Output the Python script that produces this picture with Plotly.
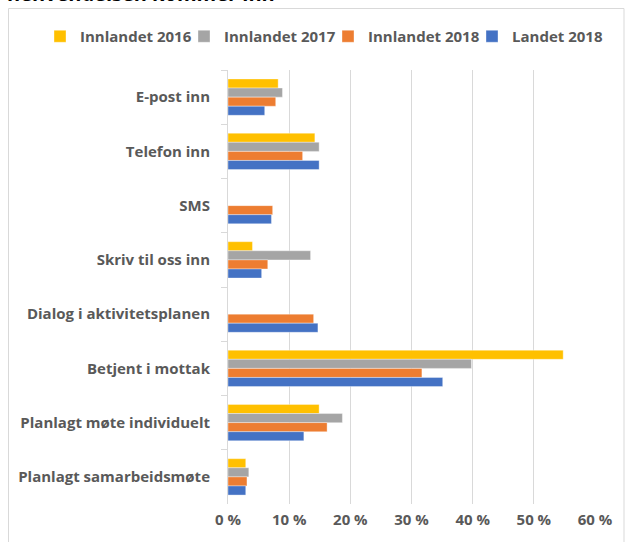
import plotly.graph_objects as go

categories = ["E-post inn", "Telefon inn", "SMS", "Skriv til oss inn",
              "Dialog i aktivitetsplanen", "Betjent i mottak",
              "Planlagt møte individuelt", "Planlagt samarbeidsmøte"]

innlandet_2016 = [8.2, 14.2, None, 4.0, None, 54.8, 14.9, 2.9]
innlandet_2017 = [8.9, 14.9, None, 13.5, None, 39.8, 18.7, 3.4]
innlandet_2018 = [7.8, 12.2, 7.3, 6.5, 14.0, 31.7, 16.2, 3.1]
landet_2018 = [6.0, 14.9, 7.1, 5.5, 14.7, 35.1, 12.4, 2.9]

series = [("Innlandet 2016", innlandet_2016, "#FFC000"),
          ("Innlandet 2017", innlandet_2017, "#A5A5A5"),
          ("Innlandet 2018", innlandet_2018, "#ED7D31"),
          ("Landet 2018", landet_2018, "#4472C4")]

tick_vals = [0, 10, 20, 30, 40, 50, 60]
tick_text = ["0 %", "10 %", "20 %", "30 %", "40 %", "50 %", "60 %"]

FONT = "Open Sans"
FS = 15
W, H = 627, 542
L, R, T, B = 228, 32, 70, 38

fig = go.Figure()
for name, vals, col in series:
    fig.add_trace(go.Bar(
        y=categories, x=vals, name=name, orientation="h",
        marker=dict(color=col, line=dict(width=0.6, color="rgba(255,255,255,0.6)")),
    ))

pw = W - L - R
ph = H - T - B
def px_x(p):
    return (p - L) / pw
def px_y(p):
    return (H - B - p) / ph

fig.update_layout(
    width=W, height=H,
    margin=dict(l=L, r=R, t=T, b=B, pad=0, autoexpand=False),
    paper_bgcolor="white", plot_bgcolor="white",
    barmode="group", bargap=0.33, bargroupgap=0,
    font=dict(family=FONT, color="#595959", size=FS),
    legend=dict(orientation="h", x=px_x(40), xanchor="left", y=px_y(20), yanchor="top",
                font=dict(family=FONT, size=FS, color="#595959", weight="bold"),
                traceorder="normal", itemwidth=30, entrywidth=99, entrywidthmode="pixels",
                tracegroupgap=0),
    xaxis=dict(range=[0, 60], tickvals=tick_vals, ticktext=tick_text,
               showgrid=True, gridcolor="#D9D9D9", gridwidth=1,
               zeroline=False, showline=False, ticks="",
               tickfont=dict(family=FONT, size=FS, color="#595959", weight="bold"),
               ticklabelstandoff=5, fixedrange=True),
    yaxis=dict(autorange="reversed", type="category",
               showline=True, linecolor="#D9D9D9", linewidth=1,
               ticks="outside", tickson="boundaries", ticklen=6, tickcolor="#D9D9D9",
               tickfont=dict(family=FONT, size=FS, color="#595959", weight="bold"),
               ticklabelstandoff=14, showgrid=False, fixedrange=True),
    shapes=[dict(type="rect", xref="paper", yref="paper",
                 x0=px_x(8.5), x1=px_x(624), y0=px_y(560), y1=px_y(8.5),
                 line=dict(color="#D9D9D9", width=1), fillcolor="rgba(0,0,0,0)",
                 layer="below")],
    annotations=[dict(text="<b>henvendelsen kommer inn</b>", showarrow=False,
                      xref="paper", yref="paper", x=px_x(5), xanchor="left",
                      y=px_y(9.5), yanchor="bottom",
                      font=dict(family=FONT, size=20, color="#000000"))],
)

fig.write_html("out.html", config={"displayModeBar": False},
               post_script="document.body.style.margin='0';")
